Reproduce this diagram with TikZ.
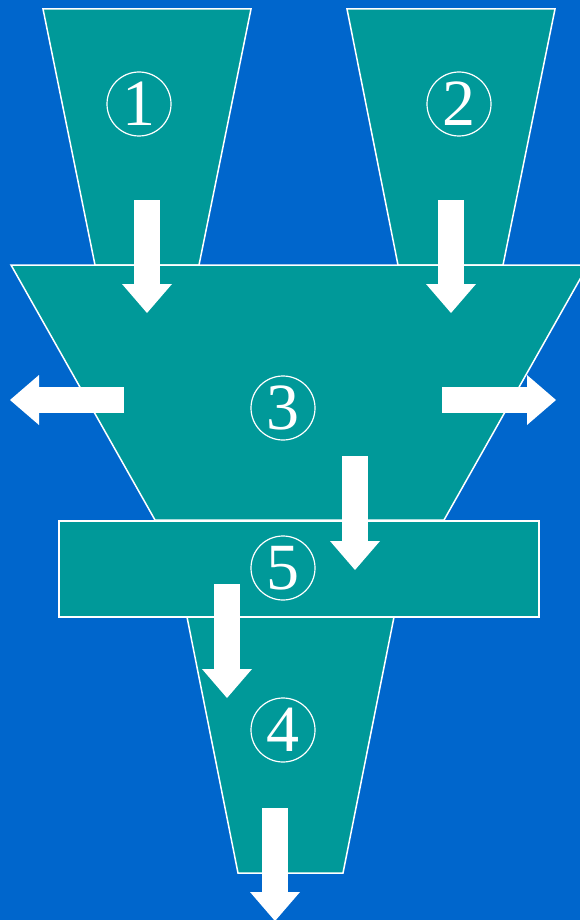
\documentclass[tikz,border=0pt]{standalone}
\usepackage{fontspec}
\setmainfont{Liberation Serif}
\usetikzlibrary{arrows.meta}
\definecolor{bgblue}{RGB}{0,102,204}
\definecolor{funnel}{RGB}{0,153,153}
\begin{document}
\begin{tikzpicture}[x=1pt,y=-1pt]
\tikzstyle{part}= [draw=white,line width=1.5pt,fill=funnel]
\tikzstyle{num}= [circle,draw=white,line width=1.2pt,minimum size=64pt,inner sep=0pt,text=white,font=\fontsize{66}{66}\selectfont]
\tikzstyle{flow}= [white,line width=26pt,-{Triangle[width=50pt,length=29pt,line width=0pt]}]

\fill[bgblue] (0,0) rectangle (580,920);
\useasboundingbox (0,0) rectangle (580,920);
\clip (0,0) rectangle (580,920);

% the five parts
\draw[part] (43,9) -- (251,9) -- (199,265) -- (95,265) -- cycle;
\draw[part] (347,9) -- (555,9) -- (503,265) -- (398,265) -- cycle;
\draw[part] (11,265) -- (588,265) -- (444,520) -- (155,520) -- cycle;
\draw[part] (187,617) -- (394,617) -- (343,873) -- (238,873) -- cycle;
\draw[part] (59,521) rectangle (539,617);

\path
	(139,104) node[num] (one) {1}
	(459,104) node[num] (two) {2}
	(283,408) node[num] (three) {3}
	(283,730) node[num] (four) {4}
	(283,568) node[num] (five) {5}
;

\path
	(147,200) coordinate (a1) (147,313) coordinate (b1)
	(451,200) coordinate (a2) (451,313) coordinate (b2)
	(124,400) coordinate (a3) (10,400) coordinate (b3)
	(442,400) coordinate (a4) (556,400) coordinate (b4)
	(355,456) coordinate (a5) (355,570) coordinate (b5)
	(227,584) coordinate (a6) (227,698) coordinate (b6)
	(275,808) coordinate (a7) (275,921) coordinate (b7)
;
\draw[flow] (a1) -- (b1);
\draw[flow] (a2) -- (b2);
\draw[flow] (a3) -- (b3);
\draw[flow] (a4) -- (b4);
\draw[flow] (a5) -- (b5);
\draw[flow] (a6) -- (b6);
\draw[flow] (a7) -- (b7);
\end{tikzpicture}
\end{document}
